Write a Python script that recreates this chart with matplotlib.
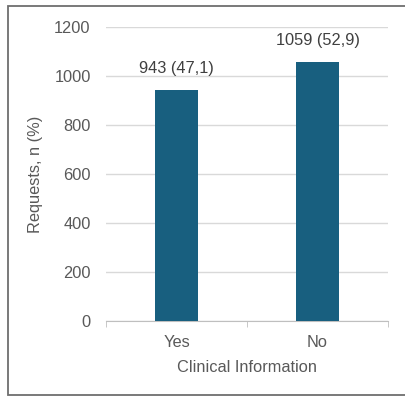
import matplotlib
matplotlib.use("Agg")
import matplotlib.pyplot as plt
from matplotlib.patches import Rectangle

# data
categories = ["Yes", "No"]
requests = [943, 1059]
percent = ["47,1", "52,9"]

plt.rcParams['font.family'] = ['Liberation Sans', 'DejaVu Sans']
txt = "#595959"
fs = 11.8

W, H = 405, 396
fig = plt.figure(figsize=(W / 100, H / 100), dpi=100)
ax = fig.add_axes([106 / W, 1 - 321 / H, (388 - 106) / W, (321 - 27) / H])

x = list(range(len(categories)))
bars = ax.bar(x, requests, width=0.31, color="#185f7f", zorder=3)
for b, n, p in zip(bars, requests, percent):
    ax.annotate(f"{n} ({p})", (b.get_x() + b.get_width() / 2, b.get_height()),
                xytext=(0, 10), textcoords="offset points", ha="center", va="bottom",
                fontsize=fs, color="#404040")

ax.set_xlim(-0.5, 1.5)
ax.set_ylim(0, 1200)
ax.set_yticks(range(0, 1201, 200))
ax.set_xticks(x)
ax.set_xticklabels(categories)
ax.yaxis.grid(True, color="#d9d9d9", linewidth=1, zorder=0)
for s in ["top", "right", "left"]:
    ax.spines[s].set_visible(False)
ax.spines["bottom"].set_color("#bfbfbf")
ax.tick_params(axis="y", length=0, pad=11, labelsize=fs, labelcolor=txt)
ax.tick_params(axis="x", length=0, pad=10, labelsize=fs, labelcolor=txt)
# category boundary ticks, Excel style
ax.set_xticks([-0.5, 0.5, 1.5], minor=True)
ax.tick_params(axis="x", which="minor", length=4, color="#bfbfbf", direction="out")

ax.set_xlabel("Clinical Information", fontsize=fs, color=txt, labelpad=7)
ax.set_ylabel("Requests, n (%)", fontsize=fs, color=txt, labelpad=8)

# outer frame
fig.patches.append(Rectangle((8 / W, 1 - 395 / H), (406 - 8) / W, (395 - 6) / H,
                             transform=fig.transFigure, fill=False,
                             edgecolor="#6e6e6e", linewidth=1.3))

fig.savefig("out.png", dpi=100)
